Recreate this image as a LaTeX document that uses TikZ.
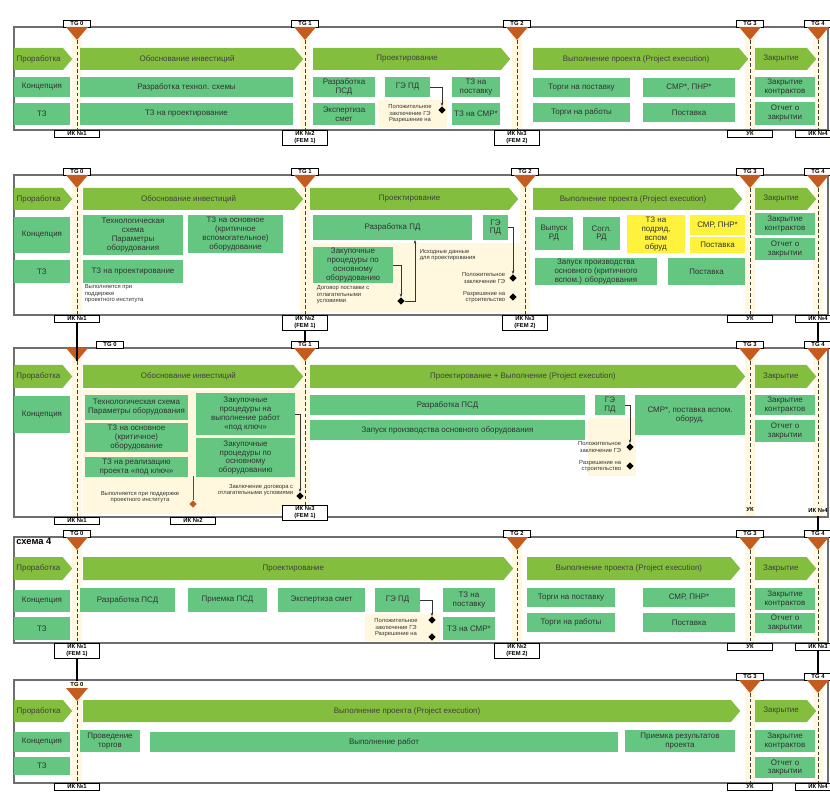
\documentclass[tikz,border=0pt]{standalone}
\usepackage{fontspec}
\setmainfont{Liberation Sans}
\usetikzlibrary{arrows.meta,positioning,shapes.geometric,shapes.symbols}
\definecolor{phgreen}{RGB}{132,190,62}
\definecolor{bxgreen}{RGB}{100,198,128}
\definecolor{bxyellow}{RGB}{255,242,60}
\definecolor{tgbrown}{RGB}{196,92,32}
\definecolor{cream}{RGB}{255,248,222}
\definecolor{framegray}{RGB}{110,110,110}
\newcommand{\boxfont}{\fontsize{6.8}{7.6}\selectfont}
\newcommand{\notefont}{\fontsize{5}{5.6}\selectfont}
% box / phase from corner to corner (units are px of the sheet)
\newcommand{\bx}[7][gbox]{\node[#1,minimum width={(#5-#3)*0.03cm},minimum height={(#6-#4)*0.03cm}] (#2) at ({(#3+#5)/2},{(#4+#6)/2}) {#7};}
\newcommand{\ph}[6]{\node[phase,anchor=west,minimum width={(#4-#2)*0.03cm},minimum height={(#5-#3)*0.03cm}] (#1) at (#2,{(#3+#5)/2}) {#6};}
% gate: label above the frame, triangle below, tip named #1
\newcommand{\tgmark}[5]{%
  \fill[cream] ({#2-5},{#3+1}) rectangle ({#2+5},{#4-1});
  \node[tglab,anchor=south] (#1l) at (#2,#3) {#5};
  \coordinate (#1) at (#2,{#3+13});
  \fill[tgbrown] (#1) -- ++(-11,-13) -- ++(22,0) -- cycle;}

\begin{document}
\begin{tikzpicture}[x=0.03cm,y=-0.03cm,
  phase/.style={signal,signal to=east,signal pointer angle=100,fill=phgreen,text=black!75,
    font=\boxfont,inner sep=1pt},
  gbox/.style={fill=bxgreen,text=black!80,font=\boxfont,align=center,inner sep=1pt},
  ybox/.style={gbox,fill=bxyellow},
  note/.style={font=\notefont,align=center,inner sep=0.5pt,text=black!80},
  tglab/.style={draw,fill=white,font=\notefont\bfseries,inner sep=1.2pt,minimum width=0.8cm},
  iklab/.style={draw,fill=white,font=\notefont\bfseries,align=center,inner sep=1.2pt,
    minimum width=1.35cm},
  tgline/.style={densely dashed,line width=0.6pt,black!75},
  dmd/.style={diamond,fill=black,inner sep=0pt,minimum size=0.22cm},
  link/.style={line width=2pt,black},
  lead/.style={line width=0.5pt,black!80,-{Stealth[length=3pt]}},
  frame/.style={draw=framegray,line width=1.5pt,fill=white}
]
\useasboundingbox (0,0) rectangle (830,793);

% ---------- scheme 1 ----------
\draw[frame] (14,27) rectangle (828,130);
\fill[cream] (378,100) rectangle (447,128);
\tgmark{t0a}{77}{27}{130}{TG 0}
\tgmark{t1a}{305}{27}{130}{TG 1}
\tgmark{t2a}{517}{27}{130}{TG 2}
\tgmark{t3a}{750}{27}{130}{TG 3}
\tgmark{t4a}{818}{27}{130}{TG 4}
\ph{a1}{14}{48}{72}{70}{Проработка}
\ph{a2}{80}{48}{303}{70}{Обоснование инвестиций}
\ph{a3}{313}{48}{510}{70}{Проектирование}
\ph{a4}{533}{48}{748}{70}{Выполнение проекта (Project execution)}
\ph{a5}{755}{48}{816}{70}{Закрытие}
\bx{a6}{14}{77}{70}{97}{Концепция}
\bx{a7}{80}{77}{293}{97}{Разработка технол. схемы}
\bx{a8}{313}{77}{375}{97}{Разработка\\ПСД}
\bx{a9}{385}{77}{430}{97}{ГЭ ПД}
\bx{a10}{452}{77}{500}{97}{ТЗ на\\поставку}
\bx{a11}{533}{78}{630}{97}{Торги на поставку}
\bx{a12}{643}{78}{735}{97}{СМР*, ПНР*}
\bx{a13}{755}{77}{815}{97}{Закрытие\\контрактов}
\bx{a14}{14}{103}{70}{125}{ТЗ}
\bx{a15}{80}{103}{293}{125}{ТЗ на проектирование}
\bx{a16}{313}{103}{375}{125}{Экспертиза\\смет}
\node[note] (a17) at (410,114) {Положительное\\заключение ГЭ\\Разрешение на};
\node[dmd] (a18) at (442,110) {};
\draw[lead] (a9.east) -| (a18.north);
\bx{a19}{452}{103}{500}{125}{ТЗ на СМР*}
\bx{a20}{533}{103}{630}{122}{Торги на работы}
\bx{a21}{643}{103}{735}{122}{Поставка}
\bx{a22}{755}{102}{815}{125}{Отчет о\\закрытии}
\node[iklab,anchor=north] (k1a) at (77,130) {ИК №1};
\node[iklab,anchor=north] (k2a) at (305,130) {ИК №2\\(FEM 1)};
\node[iklab,anchor=north] (k3a) at (517,130) {ИК №3\\(FEM 2)};
\node[iklab,anchor=north] (k4a) at (750,130) {УК};
\node[iklab,anchor=north] (k5a) at (818,130) {ИК №4};
\draw[tgline] (t0a) -- (k1a);
\draw[tgline] (t1a) -- (k2a);
\draw[tgline] (t2a) -- (k3a);
\draw[tgline] (t3a) -- (k4a);
\draw[tgline] (t4a) -- (k5a);

% ---------- scheme 2 ----------
\draw[frame] (14,175) rectangle (828,315);
\fill[cream] (310,243) rectangle (520,312);
\tgmark{t0b}{77}{175}{315}{TG 0}
\tgmark{t1b}{305}{175}{315}{TG 1}
\tgmark{t2b}{525}{175}{315}{TG 2}
\tgmark{t3b}{750}{175}{315}{TG 3}
\tgmark{t4b}{818}{175}{315}{TG 4}
\ph{b1}{14}{188}{72}{210}{Проработка}
\ph{b2}{83}{188}{303}{210}{Обоснование инвестиций}
\ph{b3}{310}{188}{518}{210}{Проектирование}
\ph{b4}{533}{188}{742}{210}{Выполнение проекта (Project execution)}
\ph{b5}{755}{188}{816}{210}{Закрытие}
\bx{b6}{14}{217}{70}{253}{Концепция}
\bx{b7}{14}{260}{70}{283}{ТЗ}
\bx{b8}{83}{215}{183}{255}{Технологическая\\схема\\Параметры\\оборудования}
\bx{b9}{188}{215}{283}{253}{ТЗ на основное\\(критичное\\вспомогательное)\\оборудование}
\bx{b10}{83}{260}{183}{283}{ТЗ на проектирование}
\node[note,align=left,anchor=north west] (b11) at (84,284) {Выполняется при\\поддержке\\проектного института};
\bx{b12}{313}{215}{472}{240}{Разработка ПД}
\bx{b13}{483}{215}{508}{240}{ГЭ\\ПД}
\bx{b14}{313}{247}{393}{283}{Закупочные\\процедуры по\\основному\\оборудованию}
\node[note,align=left,anchor=north west] (b15) at (316,285) {Договор поставки с\\отлагательными\\условиями};
\node[dmd] (b16) at (401,301) {};
\coordinate (b17) at (415,240);
\draw[lead] (b14.east) -| (b16.north);
\draw[lead] (b16.east) -| (b17);
\node[note,align=left,anchor=west] (b18) at (419,255) {Исходные данные\\для проектирования};
\node[dmd] (b19) at (513,278) {};
\node[dmd] (b20) at (513,297) {};
\draw[lead] (b13.east) -| (b19.north);
\node[note,align=right,anchor=east] (b21) at (506,278) {Положительное\\заключение ГЭ};
\node[note,align=right,anchor=east] (b22) at (506,297) {Разрешение на\\строительство};
\bx{b23}{535}{217}{573}{250}{Выпуск\\РД}
\bx{b24}{583}{217}{620}{250}{Согл.\\РД}
\bx[ybox]{b25}{627}{215}{685}{253}{ТЗ на\\подряд,\\вспом\\обруд}
\bx[ybox]{b26}{690}{215}{745}{235}{СМР, ПНР*}
\bx[ybox]{b27}{690}{237}{745}{253}{Поставка}
\bx{b28}{535}{258}{657}{285}{Запуск производства\\основного (критичного\\вспом.) оборудования}
\bx{b29}{668}{258}{745}{285}{Поставка}
\bx{b30}{755}{213}{815}{235}{Закрытие\\контрактов}
\bx{b31}{755}{238}{815}{260}{Отчет о\\закрытии}
\node[iklab,anchor=north] (k1b) at (77,315) {ИК №1};
\node[iklab,anchor=north] (k2b) at (305,315) {ИК №2\\(FEM 1)};
\node[iklab,anchor=north] (k3b) at (525,315) {ИК №3\\(FEM 2)};
\node[iklab,anchor=north] (k4b) at (750,315) {УК};
\node[iklab,anchor=north] (k5b) at (818,315) {ИК №4};
\draw[tgline] (t0b) -- (k1b);
\draw[tgline] (t1b) -- (k2b);
\draw[tgline] (t2b) -- (k3b);
\draw[tgline] (t3b) -- (k4b);
\draw[tgline] (t4b) -- (k5b);

% ---------- scheme 3 ----------
\draw[frame] (14,348) rectangle (828,517);
\fill[cream] (83,390) rectangle (300,514);
\fill[cream] (588,418) rectangle (636,476);
\fill[cream] (72,349) rectangle (82,516);
\node[tglab,anchor=south] (t0cl) at (110,348) {TG 0};
\coordinate (t0c) at (77,361);
\fill[tgbrown] (t0c) -- ++(-11,-13) -- ++(22,0) -- cycle;
\tgmark{t1c}{305}{348}{517}{TG 1}
\tgmark{t3c}{750}{348}{517}{TG 3}
\tgmark{t4c}{818}{348}{517}{TG 4}
\ph{c1}{14}{365}{72}{388}{Проработка}
\ph{c2}{83}{365}{303}{388}{Обоснование инвестиций}
\ph{c3}{310}{365}{745}{388}{Проектирование + Выполнение (Project execution)}
\ph{c4}{755}{365}{816}{388}{Закрытие}
\bx{c5}{14}{396}{70}{433}{Концепция}
\bx{c6}{85}{395}{188}{420}{Технологическая схема\\Параметры оборудования}
\bx{c7}{85}{423}{188}{452}{ТЗ на основное\\(критичное)\\оборудование}
\bx{c8}{85}{457}{188}{477}{ТЗ на реализацию\\проекта «под ключ»}
\bx{c9}{196}{393}{295}{435}{Закупочные\\процедуры на\\выполнение работ\\«под ключ»}
\bx{c10}{196}{438}{295}{477}{Закупочные\\процедуры по\\основному\\оборудованию}
\node[note] (c11) at (140,497) {Выполняется при поддержке\\проектного института};
\node[dmd,fill=tgbrown] (c12) at (193,504) {};
\coordinate (c13) at (193,476);
\draw[line width=0.5pt,black!70] (c13) -- (c12);
\node[note,align=right,anchor=east] (c14) at (294,490) {Заключение договора с\\отлагательными условиями};
\node[dmd] (c15) at (300,496) {};
\draw[lead] (c9.east) -| (c15.north);
\bx{c16}{310}{395}{585}{415}{Разработка ПСД}
\bx{c17}{310}{420}{585}{440}{Запуск производства основного оборудования}
\bx{c18}{595}{395}{625}{415}{ГЭ\\ПД}
\node[dmd] (c19) at (630,447) {};
\node[dmd] (c20) at (630,466) {};
\draw[lead] (c18.east) -| (c19.north);
\node[note,align=right,anchor=east] (c21) at (622,447) {Положительное\\заключение ГЭ};
\node[note,align=right,anchor=east] (c22) at (622,466) {Разрешение на\\строительство};
\bx{c23}{635}{395}{745}{435}{СМР*, поставка вспом.\\оборуд.}
\bx{c24}{755}{395}{815}{415}{Закрытие\\контрактов}
\bx{c25}{755}{420}{815}{442}{Отчет о\\закрытии}
\node[iklab,anchor=north] (k1c) at (77,517) {ИК №1};
\node[iklab,anchor=north] (k2c) at (193,517) {ИК №2};
\node[iklab,anchor=north] (k3c) at (305,505) {ИК №3\\(FEM 1)};
\node[font=\notefont\bfseries] (k4c) at (750,510) {УК};
\node[font=\notefont\bfseries] (k5c) at (818,510) {ИК №4};
\draw[tgline] (t0c) -- (k1c);
\draw[tgline] (t1c) -- (k3c);
\draw[tgline] (t3c) -- (k4c);
\draw[tgline] (t4c) -- (k5c);
% links from scheme 2
\draw[link] (k1b) -- (t0c);
\draw[link] (k2b) -- (t1cl);
\draw[link] (k5b) -- (t4cl);

% ---------- scheme 4 ----------
\draw[frame] (14,537) rectangle (828,643);
\node[font=\fontsize{8}{9}\selectfont\bfseries,anchor=north west,inner sep=1pt] (d0) at (15,537) {схема 4};
\fill[cream] (365,614) rectangle (440,641);
\tgmark{t0d}{77}{537}{643}{TG 0}
\tgmark{t2d}{517}{537}{643}{TG 2}
\tgmark{t3d}{750}{537}{643}{TG 3}
\tgmark{t4d}{818}{537}{643}{TG 4}
\ph{d1}{14}{557}{72}{580}{Проработка}
\ph{d2}{83}{557}{513}{580}{Проектирование}
\ph{d3}{527}{557}{740}{580}{Выполнение проекта (Project execution)}
\ph{d4}{755}{557}{816}{580}{Закрытие}
\bx{d5}{14}{590}{70}{612}{Концепция}
\bx{d6}{14}{617}{70}{640}{ТЗ}
\bx{d7}{80}{588}{175}{612}{Разработка ПСД}
\bx{d8}{188}{588}{267}{612}{Приемка ПСД}
\bx{d9}{278}{588}{365}{612}{Экспертиза смет}
\bx{d10}{375}{588}{420}{612}{ГЭ ПД}
\node[note] (d11) at (396,628) {Положительное\\заключение ГЭ\\Разрешение на};
\node[dmd] (d12) at (432,620) {};
\node[dmd] (d13) at (432,637) {};
\draw[lead] (d10.east) -| (d12.north);
\bx{d14}{443}{588}{495}{612}{ТЗ на\\поставку}
\bx{d15}{443}{617}{495}{640}{ТЗ на СМР*}
\bx{d16}{527}{588}{615}{607}{Торги на поставку}
\bx{d17}{527}{613}{615}{632}{Торги на работы}
\bx{d18}{643}{588}{735}{607}{СМР, ПНР*}
\bx{d19}{643}{613}{735}{632}{Поставка}
\bx{d20}{755}{588}{815}{610}{Закрытие\\контрактов}
\bx{d21}{755}{613}{815}{633}{Отчет о\\закрытии}
\node[iklab,anchor=north] (k1d) at (77,643) {ИК №1\\(FEM 1)};
\node[iklab,anchor=north] (k2d) at (517,643) {ИК №2\\(FEM 2)};
\node[iklab,anchor=north] (k3d) at (750,643) {УК};
\node[iklab,anchor=north] (k4d) at (818,643) {ИК №3};
\draw[tgline] (t0d) -- (k1d);
\draw[tgline] (t2d) -- (k2d);
\draw[tgline] (t3d) -- (k3d);
\draw[tgline] (t4d) -- (k4d);
\draw[link] (k5c) -- (t4dl);

% ---------- scheme 5 ----------
\draw[frame] (14,680) rectangle (828,783);
\fill[cream] (72,681) rectangle (82,782);
\node[font=\notefont\bfseries,anchor=south,inner sep=1pt] (t0el) at (77,688) {TG 0};
\coordinate (t0e) at (77,701);
\fill[tgbrown] (t0e) -- ++(-11,-13) -- ++(22,0) -- cycle;
\tgmark{t3e}{750}{680}{783}{TG 3}
\tgmark{t4e}{818}{680}{783}{TG 4}
\ph{e1}{14}{700}{72}{722}{Проработка}
\ph{e2}{83}{700}{740}{722}{Выполнение проекта (Project execution)}
\ph{e3}{755}{700}{816}{722}{Закрытие}
\bx{e4}{14}{732}{70}{752}{Концепция}
\bx{e5}{14}{757}{70}{775}{ТЗ}
\bx{e6}{80}{730}{140}{752}{Проведение\\торгов}
\bx{e7}{150}{732}{618}{752}{Выполнение работ}
\bx{e8}{625}{730}{735}{752}{Приемка результатов\\проекта}
\bx{e9}{755}{730}{815}{752}{Закрытие\\контрактов}
\bx{e10}{755}{757}{815}{778}{Отчет о\\закрытии}
\node[iklab,anchor=north] (k1e) at (77,783) {ИК №1};
\node[iklab,anchor=north] (k2e) at (750,783) {УК};
\node[iklab,anchor=north] (k3e) at (818,783) {ИК №4};
\draw[tgline] (t0e) -- (k1e);
\draw[tgline] (t3e) -- (k2e);
\draw[tgline] (t4e) -- (k3e);
\draw[link] (k1d) -- (t0el);
\draw[link] (k4d) -- (t4el);
\end{tikzpicture}
\end{document}
